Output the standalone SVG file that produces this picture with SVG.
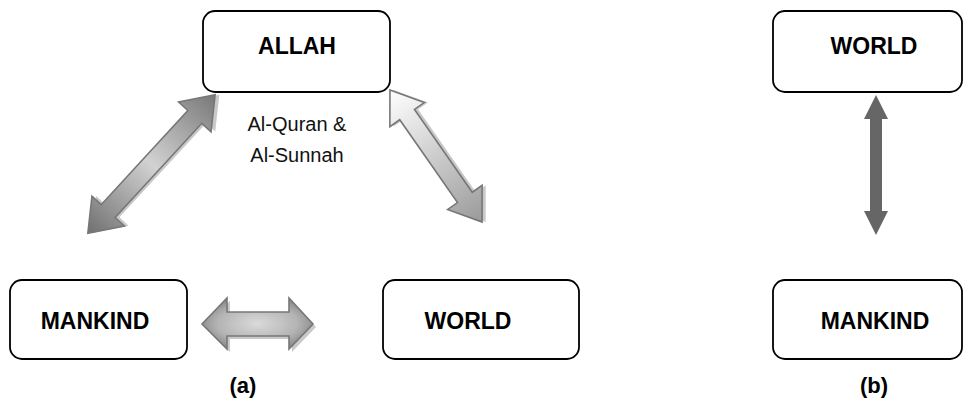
<svg xmlns="http://www.w3.org/2000/svg" width="965" height="405" viewBox="0 0 965 405">
<style>
.box{fill:#fff;stroke:#000;stroke-width:1.8}
.lbl{font-family:"Liberation Sans",Arial,sans-serif;font-weight:bold;font-size:23px;fill:#000;text-anchor:middle}
.cap{font-family:"Liberation Sans",Arial,sans-serif;font-weight:bold;font-size:22px;fill:#000;text-anchor:middle}
.txt{font-family:"Liberation Sans",Arial,sans-serif;font-size:20px;fill:#111;text-anchor:middle}
.arr{stroke:#777;stroke-width:1.6;stroke-linejoin:miter}
.shadow{fill:#bbb;opacity:0.8}
</style>
<defs>
<linearGradient id="gL" x1="0" y1="0" x2="1" y2="0">
<stop offset="0" stop-color="#707070"/>
<stop offset="0.5" stop-color="#d2d2d2"/>
<stop offset="1" stop-color="#787878"/>
</linearGradient>
<linearGradient id="gR" x1="0" y1="0" x2="1" y2="0">
<stop offset="0" stop-color="#ffffff"/>
<stop offset="1" stop-color="#9a9a9a"/>
</linearGradient>
<radialGradient id="gH" cx="0.5" cy="0.5" r="0.6">
<stop offset="0" stop-color="#dadada"/>
<stop offset="0.6" stop-color="#b4b4b4"/>
<stop offset="1" stop-color="#7a7a7a"/>
</radialGradient>
</defs>

<g id="allah">
<rect class="box" x="203" y="11" width="187" height="81" rx="12"/>
<text class="lbl" x="297" y="54">ALLAH</text>
</g>
<g id="mankind-a">
<rect class="box" x="10" y="280" width="177" height="79" rx="12"/>
<text class="lbl" x="95" y="329">MANKIND</text>
</g>
<g id="world-a">
<rect class="box" x="383" y="280" width="196" height="79" rx="12"/>
<text class="lbl" x="468" y="329">WORLD</text>
</g>
<g id="world-b">
<rect class="box" x="773" y="11" width="189" height="81" rx="12"/>
<text class="lbl" x="874" y="54">WORLD</text>
</g>
<g id="mankind-b">
<rect class="box" x="773" y="280" width="189" height="79" rx="12"/>
<text class="lbl" x="875" y="329">MANKIND</text>
</g>

<g id="labels">
<text class="txt" x="297" y="131">Al-Quran &amp;</text>
<text class="txt" x="297" y="162">Al-Sunnah</text>
<text class="cap" x="243" y="393">(a)</text>
<text class="cap" x="874" y="393">(b)</text>
</g>

<g id="connectors">
<!-- left diagonal: ALLAH <-> MANKIND -->
<g transform="translate(151.5,164) rotate(-47.4)">
<polygon class="shadow" transform="translate(3,3)" points="-94,0 -64,-22 -64,-9.5 64,-9.5 64,-22 94,0 64,22 64,9.5 -64,9.5 -64,22"/>
</g>
<g transform="translate(151.5,164) rotate(-47.4)">
<polygon class="arr" fill="url(#gL)" points="-94,0 -64,-22 -64,-9.5 64,-9.5 64,-22 94,0 64,22 64,9.5 -64,9.5 -64,22"/>
</g>
<!-- right diagonal: ALLAH <-> WORLD -->
<g transform="translate(436,156) rotate(55.1)">
<polygon class="shadow" transform="translate(2,-3)" points="-80.5,0 -50.5,-21 -50.5,-9 50.5,-9 50.5,-21 80.5,0 50.5,21 50.5,9 -50.5,9 -50.5,21"/>
<polygon class="arr" fill="url(#gR)" points="-80.5,0 -50.5,-21 -50.5,-9 50.5,-9 50.5,-21 80.5,0 50.5,21 50.5,9 -50.5,9 -50.5,21"/>
</g>
<!-- horizontal: MANKIND <-> WORLD -->
<polygon class="shadow" transform="translate(3,3)" points="202,324 227,298 227,312 289,312 289,298 313,324 289,349 289,336 227,336 227,349"/>
<polygon class="arr" fill="url(#gH)" points="202,324 227,298 227,312 289,312 289,298 313,324 289,349 289,336 227,336 227,349"/>
<!-- vertical (b) -->
<polygon fill="#666" points="876,95 888,119 882,119 882,211 888,211 876,235 864,211 870,211 870,119 864,119"/>
</g>
</svg>
